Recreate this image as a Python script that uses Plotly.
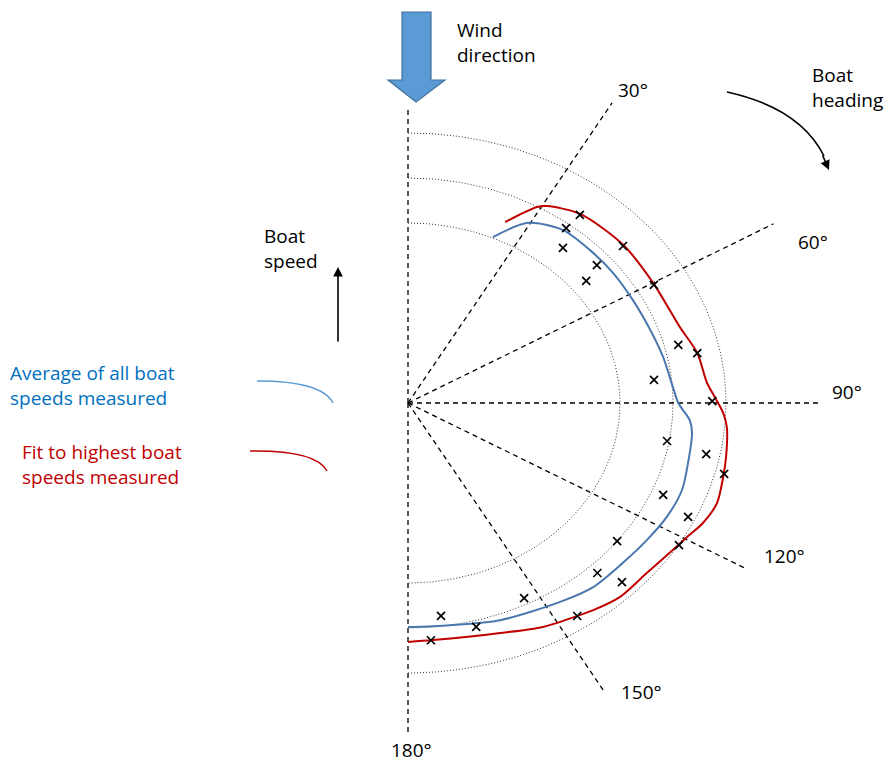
import numpy as np
import plotly.graph_objects as go

# ---- data: boat-speed polar diagram (heading angle in degrees, speed in arbitrary units)
marker_angle = [37.8, 37.5, 49.3, 40.3, 49.3, 51.1, 60.5, 75.8, 78.5, 83.7, 89.6, 99.8, 101.4,
                104.8, 113.0, 115.6, 121.7, 127.9, 136.6, 134.6, 153.2, 146.0, 172.5, 165.5, 175.3]
marker_speed = [5.29, 4.90, 5.35, 4.52, 4.70, 4.32, 5.33, 5.26, 5.57, 4.67, 5.74, 4.96, 5.74,
                6.17, 5.23, 5.86, 6.01, 5.00, 5.20, 5.67, 4.86, 5.71, 4.77, 5.14, 5.29]

avg_angle = [23.5, 29.5, 37.3, 45.3, 53.2, 61.7, 70.4, 78.0, 85.9, 90.0, 94.1, 97.1, 104.2,
             110.5, 117.4, 124.0, 131.2, 139.5, 147.0, 160.2, 170.9, 180.0]
avg_speed = [4.02, 4.60, 4.83, 4.83, 4.83, 4.82, 4.85, 4.92, 5.01, 5.10, 5.33, 5.40, 5.45,
             5.52, 5.50, 5.44, 5.39, 5.38, 5.27, 5.13, 5.00, 4.98]

fit_angle = [24.5, 29.2, 30.9, 37.7, 49.1, 60.0, 71.8, 78.5, 85.5, 88.9, 92.1, 95.1, 101.3,
             105.5, 110.9, 115.6, 119.5, 123.2, 130.0, 137.1, 142.8, 146.0, 152.9, 161.2, 174.9, 180.0]
fit_speed = [4.42, 4.99, 5.10, 5.31, 5.37, 5.34, 5.40, 5.57, 5.66, 5.80, 5.95, 6.04, 6.12,
             6.17, 6.24, 6.17, 6.05, 5.97, 5.88, 5.88, 5.78, 5.71, 5.59, 5.40, 5.29, 5.31]

ring_speeds = [4, 5, 6]
spoke_angles = [0, 30, 60, 90, 120, 150, 180]
spoke_lengths = [6.56, 7.7, 7.96, 7.74, 7.33, 7.36, 7.38]
spoke_labels = ["", "30°", "60°", "90°", "120°", "150°", "180°"]

W, H = 890, 762
FONT = "Open Sans"
FSIZE = 19


def to_xy(angle, speed):
    a = np.radians(np.asarray(angle, dtype=float))
    s = np.asarray(speed, dtype=float)
    return s * np.sin(a), s * np.cos(a)


def pxx(v):
    return v / W


def pxy(v):
    return 1 - v / H


fig = go.Figure()

# dotted speed rings
for r in ring_speeds:
    th = np.linspace(0, 180, 181)
    x, y = to_xy(th, np.full_like(th, r))
    fig.add_trace(go.Scatter(x=x, y=y, mode="lines",
                             line=dict(color="#333333", width=1, dash="1px,2px"),
                             hoverinfo="skip", showlegend=False))

# dashed heading spokes
for ang, ln in zip(spoke_angles, spoke_lengths):
    x, y = to_xy([ang, ang], [0, ln])
    fig.add_trace(go.Scatter(x=x, y=y, mode="lines",
                             line=dict(color="black", width=1.3, dash="5px,4px"),
                             hoverinfo="skip", showlegend=False))

# average curve
x, y = to_xy(avg_angle, avg_speed)
fig.add_trace(go.Scatter(x=x, y=y, mode="lines",
                         line=dict(color="#4A78AE", width=2, shape="spline", smoothing=0.8),
                         showlegend=False))

# fit to highest speeds
x, y = to_xy(fit_angle, fit_speed)
fig.add_trace(go.Scatter(x=x, y=y, mode="lines",
                         line=dict(color="#C00000", width=2, shape="spline", smoothing=0.8),
                         showlegend=False))

# measured speeds
x, y = to_xy(marker_angle, marker_speed)
fig.add_trace(go.Scatter(x=x, y=y, mode="markers",
                         marker=dict(symbol="x-thin", size=8, color="black",
                                     line=dict(color="black", width=1.7)),
                         showlegend=False))

annotations = []
shapes = []

# spoke labels placed just beyond the end of each spoke
label_pos = {30: (633, 90), 60: (813, 242), 90: (847, 392), 120: (784, 556),
             150: (641, 692), 180: (411, 750)}
for ang, lab in zip(spoke_angles, spoke_labels):
    if not lab:
        continue
    lx, ly = label_pos[ang]
    annotations.append(dict(x=pxx(lx), y=pxy(ly), xref="paper", yref="paper", text=lab,
                            showarrow=False, xanchor="center", yanchor="middle",
                            font=dict(family=FONT, size=FSIZE, color="black")))


def text_block(x, y_top, txt, color="black"):
    annotations.append(dict(x=pxx(x), y=pxy(y_top), xref="paper", yref="paper", text=txt,
                            showarrow=False, xanchor="left", yanchor="top", align="left",
                            font=dict(family=FONT, size=FSIZE, color=color)))


text_block(455, 15, "Wind<br>direction")
text_block(810, 60, "Boat<br>heading")
text_block(262, 221, "Boat<br>speed")
text_block(8, 358, "Average of all boat<br>speeds measured", "#0070C0")
text_block(20, 437, "Fit to highest boat<br>speeds measured", "#C00000")

# wind arrow (block arrow)
pts = [(402, 12), (431, 12), (431, 80), (445, 80), (416, 102), (388, 80), (402, 80)]
path = "M " + " L ".join(f"{pxx(a):.5f},{pxy(b):.5f}" for a, b in pts) + " Z"
shapes.append(dict(type="path", path=path, xref="paper", yref="paper",
                   fillcolor="#5B9BD5", line=dict(color="#41719C", width=1.2)))

# curved boat-heading arrow
shapes.append(dict(type="path", xref="paper", yref="paper",
                   path=f"M {pxx(727)},{pxy(92)} Q {pxx(800)},{pxy(108)} {pxx(824)},{pxy(156)}",
                   line=dict(color="black", width=1.6)))
annotations.append(dict(x=pxx(829), y=pxy(170), xref="paper", yref="paper", text="",
                        showarrow=True, ax=-7, ay=-16, arrowhead=2, arrowsize=1.2,
                        arrowwidth=1.6, arrowcolor="black", standoff=0))

# boat speed arrow
annotations.append(dict(x=pxx(338), y=pxy(267), xref="paper", yref="paper", text="",
                        showarrow=True, ax=0, ay=76, arrowhead=2, arrowsize=1.2,
                        arrowwidth=1.6, arrowcolor="black", standoff=0))

# legend swatches
shapes.append(dict(type="path", xref="paper", yref="paper",
                   path=f"M {pxx(257)},{pxy(381)} Q {pxx(322)},{pxy(381)} {pxx(333)},{pxy(403)}",
                   line=dict(color="#5B9BD5", width=1.5)))
shapes.append(dict(type="path", xref="paper", yref="paper",
                   path=f"M {pxx(250)},{pxy(451)} Q {pxx(316)},{pxy(450)} {pxx(327)},{pxy(471)}",
                   line=dict(color="#C00000", width=1.5)))

# axes scaled so one speed unit is 53 px across and 45 px tall, origin at (408, 403)
fig.update_layout(
    width=W, height=H, autosize=False,
    margin=dict(l=0, r=0, t=0, b=0),
    paper_bgcolor="white", plot_bgcolor="white",
    xaxis=dict(range=[-408 / 53, (W - 408) / 53], visible=False, fixedrange=True),
    yaxis=dict(range=[-(H - 403) / 45, 403 / 45], visible=False, fixedrange=True),
    annotations=annotations, shapes=shapes,
    showlegend=False,
)

fig.write_html("out.html")
